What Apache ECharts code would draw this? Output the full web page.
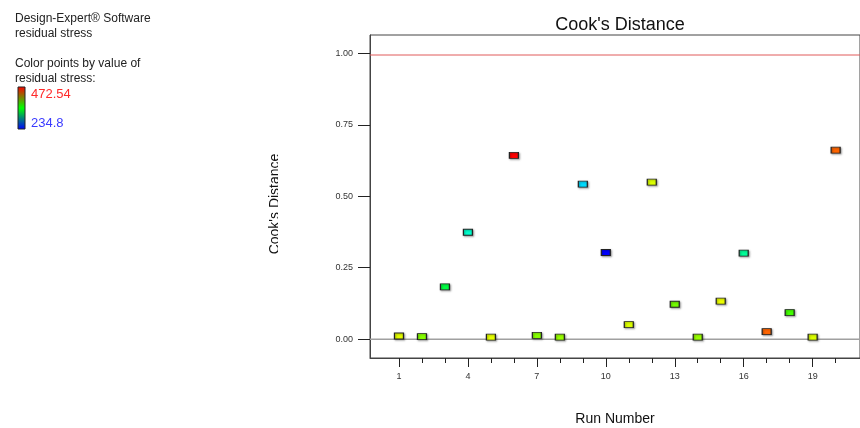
<!DOCTYPE html>
<html><head><meta charset="utf-8">
<script src="https://cdn.jsdelivr.net/npm/echarts@6/dist/echarts.min.js"></script>
<style>html,body{margin:0;padding:0;background:#fff;overflow:hidden}#c{width:860px;height:428px}</style>
</head><body><div id="c"></div>
<script>
const runs = [1,2,3,4,5,6,7,8,9,10,11,12,13,14,15,16,17,18,19,20];
const cooksDistance = [0.011,0.009,0.183,0.374,0.007,0.643,0.013,0.007,0.542,0.303,0.051,0.549,0.122,0.007,0.133,0.301,0.026,0.093,0.007,0.661];
const residualStress = [407,385,338,306,407,472.54,385,389,286,234.8,405,405,381,389,409,318,449,369,405,449];
const yTickValues = [0,0.25,0.5,0.75,1];
const xMajorTicks = [1,4,7,10,13,16,19];
const xMinorTicks = [1,2,3,4,5,6,7,8,9,10,11,12,13,14,15,16,17,18,19,20];
const refLines = [0, 0.994];
const stressRange = [234.8, 472.54];
const stressLabels = ['472.54', '234.8'];

const FONT = 'Liberation Sans, Arial, sans-serif';
const chart = echarts.init(document.getElementById('c'), null, {renderer:'canvas', width:860, height:428});
const data = runs.map((r,i)=>[r, cooksDistance[i], residualStress[i]]);
const xMin = -0.26, xMax = 21.06;
const yMin = -0.066, yMax = 1.064;

chart.setOption({
  animation:false,
  backgroundColor:'#fff',
  title:{text:"Cook's Distance", left:615, textAlign:'center', top:11,
    textStyle:{fontFamily:FONT, fontSize:18, fontWeight:'normal', color:'#111'}},
  grid:{left:370, top:35, right:0, height:323, outerBoundsMode:'none', containLabel:false,
    show:true, borderColor:'#444', borderWidth:1, backgroundColor:'transparent'},
  visualMap:{type:'continuous', show:false, dimension:2, seriesIndex:2,
    min:stressRange[0], max:stressRange[1],
    inRange:{color:['#0000ff','#00ffff','#00ff00','#ffff00','#ff0000']}},
  xAxis:[{
    type:'value', min:xMin, max:xMax, position:'bottom',
    name:'Run Number', nameLocation:'middle', nameGap:54,
    nameTextStyle:{fontFamily:FONT, fontSize:14, color:'#111'},
    axisLine:{show:true, onZero:false, lineStyle:{color:'#444', width:1}},
    axisTick:{show:true, length:9, customValues:xMajorTicks, lineStyle:{color:'#222'}},
    axisLabel:{show:true, customValues:xMajorTicks, margin:14, fontFamily:FONT, fontSize:9, color:'#333'},
    splitLine:{show:false}
  },{
    type:'value', min:xMin, max:xMax, position:'bottom', gridIndex:0,
    axisLine:{show:false, onZero:false},
    axisTick:{show:true, length:5, customValues:xMinorTicks, lineStyle:{color:'#222'}},
    axisLabel:{show:false},
    splitLine:{show:false}
  }],
  yAxis:{
    type:'value', min:yMin, max:yMax,
    axisLine:{show:true, onZero:false, lineStyle:{color:'#444', width:1}},
    axisTick:{show:true, length:12, customValues:yTickValues, lineStyle:{color:'#222'}},
    axisLabel:{show:true, customValues:yTickValues, margin:17, fontFamily:FONT, fontSize:9, color:'#333',
      formatter:v=>v.toFixed(2)},
    splitLine:{show:false}
  },
  graphic:[
    {type:'text', left:15, top:13, style:{text:'Design-Expert® Software', font:'12px '+FONT, fill:'#222'}},
    {type:'text', left:15, top:28, style:{text:'residual stress', font:'12px '+FONT, fill:'#222'}},
    {type:'text', left:15, top:58, style:{text:'Color points by value of', font:'12px '+FONT, fill:'#222'}},
    {type:'text', left:15, top:73, style:{text:'residual stress:', font:'12px '+FONT, fill:'#222'}},
    {type:'rect', shape:{x:18, y:87, width:7, height:42},
      style:{stroke:'#222', lineWidth:1,
        fill:new echarts.graphic.LinearGradient(0,0,0,1,[
          {offset:0,color:'#ff0000'},{offset:0.5,color:'#00ff00'},{offset:1,color:'#0000ff'}])}},
    {type:'text', left:31, top:88, style:{text:stressLabels[0], font:'13px '+FONT, fill:'#ff2a2a'}},
    {type:'text', left:31, top:117, style:{text:stressLabels[1], font:'13px '+FONT, fill:'#3a3aff'}},
    {type:'text', x:268, y:204, rotation:Math.PI/2, style:{text:"Cook's Distance", font:'14px '+FONT, fill:'#111', align:'center', verticalAlign:'top'}},
    {type:'rect', z:100, shape:{x:278, y:140, width:12, height:130}, style:{fill:'#fff'}}
  ],
  series:[{
    type:'line', xAxisIndex:0, yAxisIndex:0, z:2, silent:true, symbol:'none',
    data:[[xMin, refLines[0]],[xMax, refLines[0]]],
    lineStyle:{color:'#a0a0a0', width:1.5}, itemStyle:{color:'#a0a0a0'}
  },{
    type:'line', xAxisIndex:0, yAxisIndex:0, z:2, silent:true, symbol:'none',
    data:[[xMin, refLines[1]],[xMax, refLines[1]]],
    lineStyle:{color:'#e05a5a', width:1}, itemStyle:{color:'#e05a5a'}
  },{
    type:'scatter', xAxisIndex:0, yAxisIndex:0, z:5,
    data:data, symbol:'rect', symbolSize:[9,6],
    itemStyle:{borderColor:'#222', borderWidth:1, opacity:1,
      shadowColor:'rgba(0,0,0,0.35)', shadowBlur:2, shadowOffsetX:1, shadowOffsetY:1}
  }]
});
</script></body></html>
